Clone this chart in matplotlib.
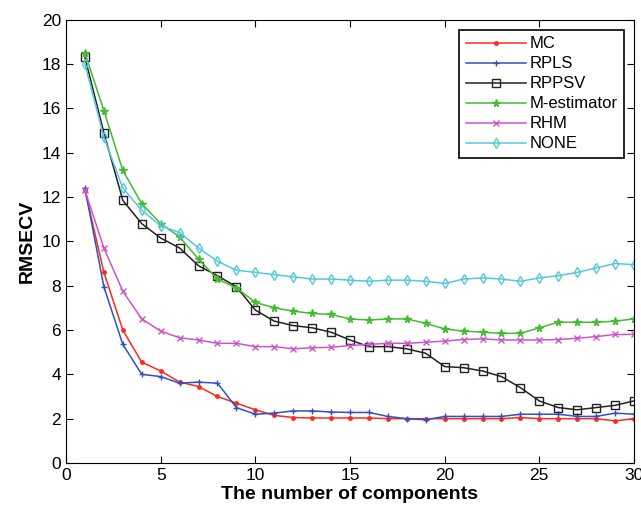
import numpy as np
from matplotlib import pyplot as plt

plt.rcParams['font.family'] = ['Liberation Sans', 'DejaVu Sans']

# number of components
x = np.arange(1, 31)

mc = [12.3, 8.6, 6.0, 4.55, 4.15, 3.65, 3.45, 3.0, 2.7, 2.4,
      2.15, 2.05, 2.03, 2.03, 2.03, 2.03, 2.0, 2.0, 2.0, 2.0,
      2.0, 2.0, 2.0, 2.05, 2.0, 2.0, 2.0, 2.0, 1.9, 2.0]
rpls = [12.4, 7.95, 5.35, 4.0, 3.9, 3.6, 3.65, 3.6, 2.5, 2.2,
        2.25, 2.35, 2.35, 2.3, 2.28, 2.28, 2.1, 2.0, 1.95, 2.1,
        2.1, 2.1, 2.1, 2.2, 2.2, 2.2, 2.1, 2.1, 2.25, 2.2]
rppsv = [18.3, 14.9, 11.85, 10.8, 10.15, 9.7, 8.9, 8.45, 7.95, 6.9,
         6.4, 6.2, 6.1, 5.9, 5.55, 5.25, 5.25, 5.15, 4.95, 4.35,
         4.3, 4.15, 3.9, 3.4, 2.8, 2.5, 2.4, 2.5, 2.6, 2.8]
mest = [18.5, 15.9, 13.2, 11.7, 10.8, 10.2, 9.2, 8.3, 7.9, 7.25,
        7.0, 6.85, 6.75, 6.7, 6.5, 6.45, 6.5, 6.5, 6.3, 6.05,
        5.95, 5.9, 5.85, 5.85, 6.1, 6.35, 6.35, 6.35, 6.4, 6.5]
rhm = [12.3, 9.7, 7.75, 6.5, 5.95, 5.65, 5.55, 5.4, 5.4, 5.25,
       5.25, 5.15, 5.2, 5.22, 5.3, 5.35, 5.4, 5.4, 5.45, 5.5,
       5.57, 5.6, 5.55, 5.55, 5.55, 5.57, 5.63, 5.7, 5.8, 5.8]
none = [18.0, 14.7, 12.4, 11.4, 10.7, 10.4, 9.7, 9.1, 8.7, 8.6,
        8.5, 8.4, 8.3, 8.3, 8.25, 8.2, 8.25, 8.25, 8.2, 8.1,
        8.3, 8.35, 8.3, 8.2, 8.35, 8.45, 8.6, 8.8, 9.0, 8.95]

names = ['MC', 'RPLS', 'RPPSV', 'M-estimator', 'RHM', 'NONE']

fig = plt.figure(figsize=(6.41, 5.13), dpi=100)
ax = fig.add_axes([0.103, 0.0975, 0.886, 0.864])

ax.plot(x, mc, '-', color='#ff2a1a', marker='.', ms=5, lw=1.1, label=names[0])
ax.plot(x, rpls, '-', color='#3050c8', marker='+', ms=5, lw=1.1, label=names[1])
ax.plot(x, rppsv, '-', color='#222222', marker='s', ms=6, mfc='none', lw=1.1, label=names[2])
ax.plot(x, mest, '-', color='#44bb33', marker='*', ms=5.5, lw=1.1, label=names[3])
ax.plot(x, rhm, '-', color='#cc55cc', marker='x', ms=4.5, lw=1.1, label=names[4])
ax.plot(x, none, '-', color='#55c8dd', marker='d', ms=5, mfc='none', lw=1.1, label=names[5])

ax.set_xlim(0, 30)
ax.set_ylim(0, 20)
ax.set_xticks(range(0, 31, 5))
ax.set_yticks(range(0, 21, 2))
ax.tick_params(direction='in', top=True, right=True, labelsize=12.5, length=5)
ax.set_xlabel('The number of components', fontsize=14, fontweight='bold', labelpad=2)
ax.set_ylabel('RMSECV', fontsize=14, fontweight='bold', labelpad=4)

leg = ax.legend(loc='upper right', fontsize=12, fancybox=False, edgecolor='black',
                framealpha=1, handlelength=3.6, handletextpad=0.2, labelspacing=0.3,
                borderaxespad=0.6)
leg.get_frame().set_linewidth(1.2)

plt.savefig('out.png')
